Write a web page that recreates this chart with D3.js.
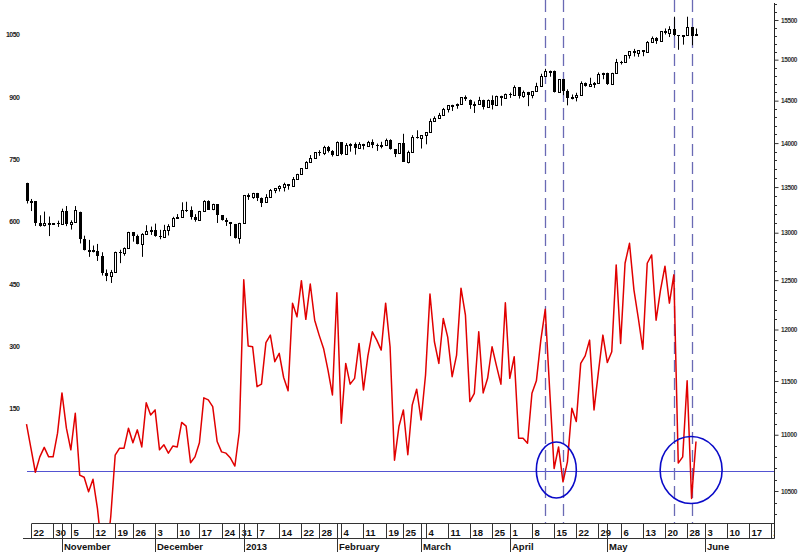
<!DOCTYPE html>
<html>
<head>
<meta charset="utf-8">
<script src="https://cdn.jsdelivr.net/npm/d3@7/dist/d3.min.js"></script>
<style>
html,body{margin:0;padding:0;background:#fff;}
svg{display:block;}
</style>
</head>
<body>
<svg id="chart" width="798" height="552"></svg>
<script>
// ---------- DATA (one bar per trading day, Oct 19 2012 .. May 30 2013) ----------
const opens = [13548,13344,13344,13103,13080,13104,13107,13107,13099,13232,
13092,13113,13228,12932,12811,12815,12810,12756,12570,12543,
12589,12795,12788,12838,13008,12966,12877,12986,13022,13027,
12965,12952,13034,13075,13155,13170,13249,13245,13170,13135,
13236,13350,13252,13309,13190,13138,13114,13095,12938,13104,
13413,13391,13434,13384,13329,13391,13471,13488,13506,13534,
13511,13596,13649,13712,13779,13825,13895,13881,13954,13910,
13860,14009,13880,13979,13986,13944,13992,13971,14018,13982,
13973,13982,14036,13927,13881,14000,13783,13900,14075,14054,
14089,14128,14254,14297,14329,14397,14446,14449,14455,14539,
14513,14453,14455,14510,14421,14512,14448,14559,14527,14578,
14573,14662,14550,14606,14565,14614,14673,14802,14865,14865,
14599,14756,14618,14537,14547,14567,14719,14676,14700,14712,
14818,14839,14700,14831,14973,14968,15056,15105,15082,15118,
15090,15215,15275,15233,15354,15335,15387,15307,15294,15304,
15409,15303];
const highs = [13548,13368,13344,13189,13229,13175,13107,13130,13261,13290,
13134,13290,13228,12968,12923,12863,12880,12792,12611,12606,
12798,12818,12843,13010,13008,12980,12995,13081,13066,13098,
13031,13085,13092,13172,13202,13331,13337,13286,13201,13237,
13354,13353,13315,13309,13190,13160,13116,13095,13107,13412,
13430,13436,13435,13384,13421,13478,13488,13520,13549,13534,
13613,13649,13713,13792,13862,13895,13918,13969,13967,13919,
14019,14009,14000,13998,14007,14011,13992,14026,14043,13995,
14015,14052,14044,13927,14000,14108,13913,14092,14149,14090,
14128,14286,14313,14354,14413,14447,14451,14466,14539,14563,
14514,14489,14546,14511,14514,14563,14560,14559,14585,14597,
14684,14662,14622,14606,14613,14716,14826,14887,14865,14865,
14757,14756,14636,14574,14595,14733,14719,14777,14725,14842,
14839,14839,14838,15009,14985,15056,15106,15134,15118,15118,
15232,15290,15282,15355,15392,15420,15542,15307,15303,15542,
15409,15391];
const lows = [13318,13235,13073,13065,13068,12964,13107,13062,13099,13071,
13034,13113,12885,12811,12743,12790,12700,12548,12490,12471,
12589,12677,12755,12838,12904,12876,12743,12986,12976,12957,
12930,12952,12970,13075,13152,13170,13225,13142,13119,13135,
13236,13249,13244,13105,13131,13073,12964,12937,12883,13104,
13358,13370,13345,13279,13329,13391,13432,13451,13451,13471,
13511,13580,13649,13712,13779,13825,13853,13862,13891,13845,
13860,13861,13880,13901,13867,13944,13926,13970,13942,13910,
13939,13982,13925,13839,13881,13784,13767,13899,14052,13937,
13986,14128,14254,14296,14329,14359,14377,14403,14455,14496,
14402,14353,14455,14395,14421,14395,14448,14439,14527,14533,
14573,14525,14534,14434,14528,14614,14673,14799,14790,14598,
14599,14566,14444,14515,14491,14567,14669,14676,14654,14712,
14759,14690,14700,14831,14940,14962,15013,15039,15035,15043,
15091,15211,15197,15233,15315,15283,15295,15123,15187,15304,
15180,15303];
const closes = [13343,13345,13102,13077,13103,13107,13107,13096,13232,13093,
13112,13245,12932,12811,12815,12815,12756,12570,12542,12588,
12795,12788,12836,13009,12967,12878,12985,13021,13025,12965,
12951,13034,13074,13155,13169,13248,13245,13170,13135,13235,
13350,13251,13311,13190,13139,13114,13096,12938,13104,13412,
13391,13435,13384,13328,13390,13471,13488,13507,13534,13511,
13596,13649,13712,13779,13825,13895,13881,13954,13910,13860,
14009,13880,13979,13986,13944,13992,13971,14018,13982,13973,
13981,14035,13927,13880,14000,13784,13900,14075,14054,14089,
14127,14253,14296,14329,14397,14447,14450,14455,14539,14514,
14452,14455,14511,14421,14512,14447,14559,14526,14578,14572,
14662,14550,14606,14565,14613,14673,14802,14865,14865,14599,
14756,14618,14537,14547,14567,14719,14676,14700,14712,14818,
14839,14700,14831,14973,14968,15056,15105,15082,15118,15091,
15215,15275,15233,15354,15335,15387,15307,15294,15303,15409,
15302,15324];
const oscillator = [113,55,-3,34,57,34,34,91,188,103,
51,139,-10,-15,-50,-20,-90,-190,-210,-110,
38,55,55,103,68,99,58,164,135,147,
51,63,43,60,58,117,108,20,34,68,
176,171,155,71,46,43,31,12,95,460,
301,299,203,209,309,327,263,283,225,193,
404,371,458,365,450,363,327,295,243,183,
429,115,259,209,223,307,195,277,335,315,
291,404,299,26,107,147,39,159,197,123,
231,426,311,259,367,322,227,279,440,375,
167,187,335,188,223,299,253,209,405,223,
275,79,79,67,187,217,315,389,195,6,
58,-26,22,151,119,259,277,315,147,239,
327,261,287,496,307,500,548,436,367,293,
500,520,363,436,493,404,472,19,34,217,
-66,71];
const weekTickIndex = [1,6,10,15,20,24,29,34,39,44,48,52,57,62,66,71,76,81,85,90,95,100,105,109,114,119,124,129,134,139,144,149,153,158,163,168];
const weekTickLabels = ["22","30","5","12","19","26","3","10","17","24","31","7","14","22","28","4","11","19","25","4","11","18","25","1","8","15","22","29","6","13","20","28","3","10","17","24"];
const monthIndex = [8,29,49,70,89,109,131,153];
const monthLabels = ["November","December","2013","February","March","April","May","June"];
const markerIndex = [117,121,146,150];
const circleIndex = [119.5,149.9];
const leftTicks = [150,300,450,600,750,900,1050];
const rightTicks = [10500,11000,11500,12000,12500,13000,13500,14000,14500,15000,15500];

// ---------- LAYOUT ----------
const W = 798, H = 552;
const axisTop = 523.5, axisBottom = 538.5, rightX = 774.5;
const font = "'Liberation Sans', Arial, sans-serif";
const svg = d3.select("#chart");

const x = d3.scaleLinear().domain([0,151]).range([26.5,696]);
const yL = d3.scaleLinear().domain([0,1050]).range([471,34.7]);
const yR = d3.scaleLog().domain([10500,15500]).range([491,20]);

const defs = svg.append("defs");
defs.append("clipPath").attr("id","plotClip").append("rect")
  .attr("x",0).attr("y",0).attr("width",rightX).attr("height",axisTop);
defs.append("clipPath").attr("id","axisClip").append("rect")
  .attr("x",0).attr("y",axisTop).attr("width",rightX-0.5).attr("height",H-axisTop);

// zero line
svg.append("line")
  .attr("x1",27).attr("x2",rightX)
  .attr("y1",Math.round(yL(0))+0.5).attr("y2",Math.round(yL(0))+0.5)
  .attr("stroke","#5454d2").attr("stroke-width",1.2);

// dashed marker lines
svg.append("g").selectAll("line").data(markerIndex).join("line")
  .attr("x1",d=>Math.round(x(d))+0.5).attr("x2",d=>Math.round(x(d))+0.5)
  .attr("y1",0).attr("y2",axisTop)
  .attr("stroke","#6a6ab4").attr("stroke-width",1.3)
  .attr("stroke-dasharray","12,6");

// oscillator line
const line = d3.line().x((d,i)=>x(i)).y(d=>yL(d));
svg.append("path").datum(oscillator)
  .attr("clip-path","url(#plotClip)")
  .attr("d",line).attr("fill","none")
  .attr("stroke","#e10000").attr("stroke-width",1.5)
  .attr("stroke-linejoin","round");

// candles
const idx = d3.range(closes.length);
const cg = svg.append("g");
cg.selectAll("line").data(idx).join("line")
  .attr("x1",i=>Math.round(x(i))+0.5).attr("x2",i=>Math.round(x(i))+0.5)
  .attr("y1",i=>yR(highs[i])).attr("y2",i=>yR(lows[i]))
  .attr("stroke","#000").attr("stroke-width",1);
cg.selectAll("rect").data(idx).join("rect")
  .attr("x",i=> closes[i]>=opens[i] ? Math.round(x(i))-0.5 : Math.round(x(i))-1)
  .attr("width",i=> closes[i]>=opens[i] ? 2 : 3)
  .attr("y",i=>{
    const t = Math.round(yR(Math.max(opens[i],closes[i])));
    return closes[i]>=opens[i] ? t+0.5 : t;
  })
  .attr("height",i=>Math.max(1,Math.round(yR(Math.min(opens[i],closes[i])))-Math.round(yR(Math.max(opens[i],closes[i])))))
  .attr("fill",i=>closes[i]>=opens[i]?"#fff":"#000")
  .attr("stroke",i=>closes[i]>=opens[i]?"#000":"none")
  .attr("stroke-width",1);

// circles
svg.append("g").selectAll("ellipse").data(circleIndex).join("ellipse")
  .attr("cx",d=>x(d)).attr("cy",yL(0)-1)
  .attr("rx",(d,i)=>i===0?20:31).attr("ry",(d,i)=>i===0?28:33.5)
  .attr("fill","none").attr("stroke","#0a0ac8").attr("stroke-width",1.6);

// left axis
const gL = svg.append("g").attr("transform","translate(19.5,0)")
  .call(d3.axisLeft(yL).tickValues(leftTicks).tickSize(0).tickPadding(0).tickFormat(d3.format("d")));
gL.select(".domain").remove();
gL.selectAll("text").attr("font-family",font).attr("font-size",7)
  .attr("font-weight","bold").attr("letter-spacing","-0.5px").attr("fill","#222");

// right axis
const gR = svg.append("g").attr("transform",`translate(${rightX},0)`);
gR.append("line").attr("x1",0).attr("x2",0).attr("y1",3).attr("y2",axisBottom)
  .attr("stroke","#222").attr("stroke-width",1);
const minor = d3.range(10000,15800,100).filter(v=>rightTicks.indexOf(v)<0 && yR(v)>4 && yR(v)<axisTop);
gR.selectAll(".mn").data(minor).join("line")
  .attr("x1",0).attr("x2",2.5)
  .attr("y1",d=>Math.round(yR(d))+0.5).attr("y2",d=>Math.round(yR(d))+0.5)
  .attr("stroke","#333").attr("stroke-width",1);
const rAx = gR.append("g").call(d3.axisRight(yR).tickValues(rightTicks).tickSize(4).tickPadding(2.5).tickFormat(d3.format("d")));
rAx.select(".domain").remove();
rAx.selectAll("line").attr("stroke","#333");
rAx.selectAll("text").attr("font-family",font).attr("font-size",6.5)
  .attr("font-weight","bold").attr("letter-spacing","-0.4px").attr("fill","#333");

// bottom date axis
const ax = svg.append("g");
ax.append("line").attr("x1",Math.round(x(1))+0.5).attr("x2",rightX)
  .attr("y1",axisTop).attr("y2",axisTop).attr("stroke","#333");
ax.append("line").attr("x1",23).attr("x2",rightX)
  .attr("y1",axisBottom).attr("y2",axisBottom).attr("stroke","#333");
const axc = ax.append("g").attr("clip-path","url(#axisClip)");
axc.selectAll(".wt").data(weekTickIndex).join("line")
  .attr("x1",d=>Math.round(x(d))+0.5).attr("x2",d=>Math.round(x(d))+0.5)
  .attr("y1",axisTop).attr("y2",axisBottom).attr("stroke","#333");
axc.selectAll(".wl").data(weekTickIndex).join("text")
  .attr("x",d=>Math.round(x(d))+2.5).attr("y",535.5)
  .attr("font-family",font).attr("font-size",9.5).attr("font-weight","bold").attr("fill","#111")
  .text((d,i)=>weekTickLabels[i]);
axc.selectAll(".ml").data(monthIndex).join("line")
  .attr("x1",d=>Math.round(x(d))+0.5).attr("x2",d=>Math.round(x(d))+0.5)
  .attr("y1",axisTop).attr("y2",H).attr("stroke","#333");
axc.selectAll(".mt").data(monthIndex).join("text")
  .attr("x",d=>Math.round(x(d))+2).attr("y",549.5)
  .attr("font-family",font).attr("font-size",9.5).attr("font-weight","bold").attr("fill","#111")
  .text((d,i)=>monthLabels[i]);
</script>
</body>
</html>
